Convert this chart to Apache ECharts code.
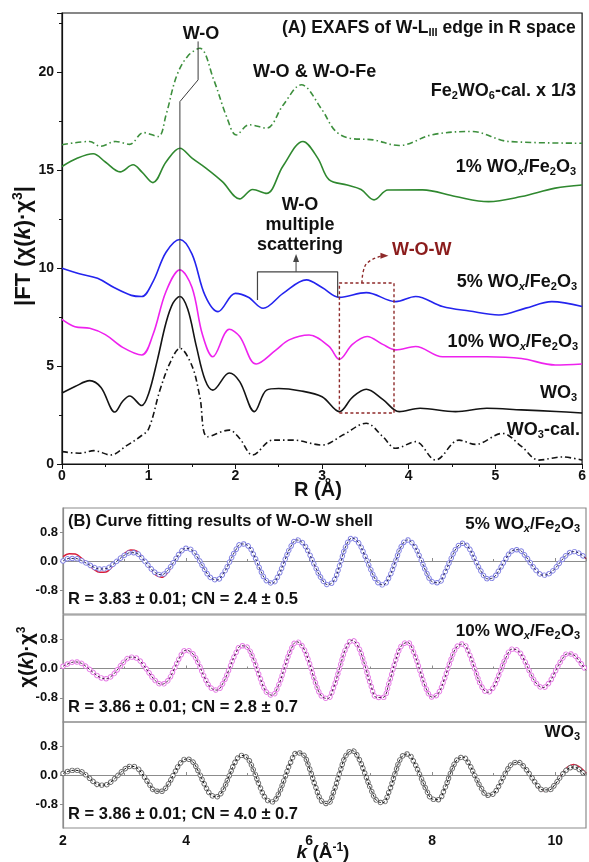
<!DOCTYPE html>
<html><head><meta charset="utf-8">
<script src="https://cdn.jsdelivr.net/npm/echarts@6/dist/echarts.min.js"></script>
<style>html,body{margin:0;padding:0;background:#fff}#c{width:589px;height:862px}</style>
</head><body><div id="c"></div>
<script>
// ---------- Panel A: |FT| in R space, [R (Å), value] ----------
const fe2wo6Cal = [[0,16.28],[0.32,16.45],[0.44,16.2],[0.62,16.45],[0.78,16.3],[0.94,16.9],[1.11,16.7],[1.2,17.8],[1.32,19.76],[1.45,20.8],[1.59,21.2],[1.75,19.6],[1.9,17.7],[2.01,16.78],[2.16,17.3],[2.36,17.13],[2.55,18.3],[2.76,19.34],[3.0,18.06],[3.15,17.0],[3.31,16.62],[3.59,16.53],[3.89,16.24],[4.27,16.79],[4.73,16.96],[5.15,16.45],[6,16.36]];
const wox1 = [[0,15.17],[0.18,15.6],[0.36,15.82],[0.5,15.4],[0.67,14.9],[0.82,15.26],[0.92,14.9],[1.05,14.35],[1.2,15.4],[1.36,16.1],[1.5,15.6],[1.66,15.09],[1.85,14.4],[2.05,13.52],[2.2,14.0],[2.36,13.8],[2.55,15.2],[2.78,16.45],[2.95,15.6],[3.08,14.5],[3.29,14.23],[3.45,14.0],[3.6,13.47],[3.76,13.97],[4.16,13.98],[4.54,13.64],[4.92,13.38],[5.3,13.64],[5.69,14.07],[6,14.23]];
const wox5 = [[0,9.98],[0.2,9.7],[0.41,9.47],[0.6,9.0],[0.8,8.6],[0.92,8.54],[1.05,9.3],[1.2,10.8],[1.36,11.45],[1.5,10.7],[1.65,8.6],[1.8,7.77],[2.0,8.7],[2.15,8.5],[2.32,7.94],[2.55,8.7],[2.82,9.39],[3.0,9.0],[3.2,8.5],[3.51,8.74],[3.85,8.28],[4.08,8.54],[4.39,8.03],[4.7,7.8],[5.04,7.6],[5.35,7.95],[5.65,8.28],[6,8.03]];
const wox10 = [[0,7.38],[0.15,7.0],[0.32,6.92],[0.5,6.6],[0.7,5.95],[0.92,5.56],[1.05,6.6],[1.2,8.8],[1.36,9.9],[1.5,9.0],[1.62,6.6],[1.74,5.47],[1.93,6.87],[2.05,6.5],[2.24,5.1],[2.47,5.82],[2.62,6.33],[2.85,6.58],[3.08,6.0],[3.2,5.34],[3.35,6.1],[3.52,6.5],[3.7,6.1],[3.85,5.82],[4.08,5.99],[4.39,5.47],[4.9,5.47],[5.3,5.38],[5.69,5.05],[6,5.1]];
const wo3 = [[0,3.62],[0.15,3.95],[0.32,4.25],[0.45,3.9],[0.61,2.65],[0.7,3.2],[0.78,3.47],[0.92,2.98],[1.0,3.6],[1.1,5.3],[1.2,7.2],[1.28,8.2],[1.36,8.54],[1.45,7.9],[1.55,6.0],[1.65,4.3],[1.74,3.77],[1.93,4.64],[2.05,4.2],[2.22,2.67],[2.36,3.77],[2.5,3.85],[2.74,3.74],[3.0,3.43],[3.2,2.67],[3.35,3.4],[3.51,3.81],[3.7,3.3],[3.89,2.67],[4.13,2.84],[4.54,2.67],[4.9,2.84],[5.3,2.76],[5.7,2.68],[6,2.6]];
const wo3Cal = [[0,0.63],[0.2,0.55],[0.37,0.68],[0.56,0.46],[0.75,0.95],[0.9,1.39],[1.0,1.8],[1.13,3.77],[1.25,5.2],[1.36,5.9],[1.5,5.0],[1.59,3.43],[1.68,1.39],[1.93,1.73],[2.05,1.3],[2.2,0.46],[2.43,1.22],[2.66,1.22],[3.0,0.97],[3.25,1.5],[3.51,2.08],[3.7,1.4],[3.85,0.8],[4.08,1.14],[4.31,0.2],[4.58,1.22],[4.77,1.0],[5.08,1.56],[5.3,0.9],[5.5,0.2],[5.77,0.36],[6,0.2]];

// annotation guides in panel A (data coordinates)
const woPointer = [[1.36,5.9],[1.36,18.48],[1.57,19.59],[1.57,21.55]];
const msBracket = [[2.255,8.37],[2.255,9.8],[3.18,9.8],[3.18,8.5]];
const msArrow = [[2.70,9.8],[2.70,10.5]];
const wowBox = [[3.2,2.6],[3.83,2.6],[3.83,9.23],[3.2,9.23],[3.2,2.6]];
const wowArrow = [[3.46,9.23],[3.48,9.9],[3.56,10.38],[3.72,10.62]];

// ---------- Panel B: chi(k)*k^3, k in Å^-1 ----------
const kValues = [2.0,2.1,2.2,2.3,2.4,2.5,2.6,2.7,2.8,2.9,3.0,3.1,3.2,3.3,3.4,3.5,3.6,3.7,3.8,3.9,4.0,4.1,4.2,4.3,4.4,4.5,4.6,4.7,4.8,4.9,5.0,5.1,5.2,5.3,5.4,5.5,5.6,5.7,5.8,5.9,6.0,6.1,6.2,6.3,6.4,6.5,6.6,6.7,6.8,6.9,7.0,7.1,7.2,7.3,7.4,7.5,7.6,7.7,7.8,7.9,8.0,8.1,8.2,8.3,8.4,8.5,8.6,8.7,8.8,8.9,9.0,9.1,9.2,9.3,9.4,9.5,9.6,9.7,9.8,9.9,10.0,10.1,10.2,10.3,10.4,10.5];
const w5Data = [0.00,0.07,0.07,0.01,-0.08,-0.17,-0.22,-0.21,-0.11,0.03,0.16,0.23,0.21,0.05,-0.15,-0.32,-0.38,-0.26,-0.03,0.22,0.35,0.29,0.06,-0.23,-0.46,-0.52,-0.36,-0.05,0.28,0.47,0.43,0.17,-0.22,-0.53,-0.61,-0.40,0.00,0.39,0.58,0.49,0.21,-0.16,-0.48,-0.65,-0.55,-0.10,0.42,0.63,0.51,0.17,-0.23,-0.56,-0.66,-0.45,-0.02,0.41,0.58,0.44,0.11,-0.29,-0.57,-0.60,-0.34,0.04,0.37,0.49,0.35,0.02,-0.30,-0.49,-0.45,-0.22,0.07,0.28,0.31,0.17,-0.06,-0.28,-0.39,-0.35,-0.20,0.01,0.19,0.26,0.20,0.07];
const w5Fit = [0.12,0.20,0.19,0.08,-0.08,-0.23,-0.31,-0.30,-0.16,0.02,0.21,0.30,0.27,0.08,-0.17,-0.38,-0.45,-0.32,-0.06,0.20,0.35,0.29,0.06,-0.23,-0.46,-0.52,-0.36,-0.05,0.28,0.47,0.43,0.17,-0.22,-0.53,-0.61,-0.40,0.00,0.39,0.58,0.49,0.21,-0.16,-0.48,-0.65,-0.55,-0.10,0.42,0.63,0.51,0.17,-0.23,-0.56,-0.66,-0.45,-0.02,0.41,0.58,0.44,0.11,-0.29,-0.57,-0.60,-0.34,0.04,0.37,0.49,0.35,0.02,-0.30,-0.49,-0.45,-0.22,0.07,0.28,0.31,0.17,-0.06,-0.28,-0.39,-0.35,-0.20,0.01,0.19,0.26,0.20,0.07];
const w10Data = [0.06,0.14,0.18,0.14,0.02,-0.12,-0.24,-0.28,-0.19,0.00,0.20,0.31,0.28,0.11,-0.12,-0.33,-0.43,-0.34,-0.04,0.31,0.50,0.42,0.14,-0.24,-0.52,-0.59,-0.40,-0.02,0.39,0.62,0.57,0.24,-0.24,-0.63,-0.73,-0.47,0.02,0.50,0.73,0.58,0.17,-0.37,-0.75,-0.82,-0.51,0.04,0.56,0.77,0.59,0.12,-0.44,-0.79,-0.79,-0.39,0.19,0.62,0.71,0.44,-0.05,-0.54,-0.78,-0.68,-0.28,0.22,0.59,0.67,0.41,-0.05,-0.48,-0.65,-0.50,-0.11,0.30,0.53,0.48,0.22,-0.14,-0.42,-0.52,-0.39,-0.08,0.22,0.40,0.37,0.18,-0.05];
const wo3Data = [0.04,0.11,0.13,0.09,-0.04,-0.19,-0.28,-0.27,-0.16,0.00,0.16,0.24,0.20,0.00,-0.25,-0.44,-0.45,-0.28,0.02,0.31,0.44,0.38,0.10,-0.26,-0.54,-0.60,-0.41,-0.03,0.36,0.54,0.46,0.12,-0.32,-0.66,-0.74,-0.53,-0.10,0.35,0.61,0.57,0.21,-0.30,-0.71,-0.79,-0.46,0.08,0.54,0.67,0.48,0.07,-0.38,-0.71,-0.76,-0.45,0.06,0.49,0.58,0.37,0.00,-0.39,-0.66,-0.68,-0.39,0.06,0.41,0.49,0.30,-0.04,-0.37,-0.56,-0.51,-0.25,0.08,0.31,0.35,0.21,-0.02,-0.26,-0.41,-0.41,-0.25,-0.02,0.16,0.22,0.14,-0.03];
const wo3TailK = [9.7,9.8,9.9,10.0,10.1,10.2,10.3,10.4,10.5];
const wo3TailFit = [-0.27,-0.43,-0.42,-0.24,0.02,0.22,0.29,0.22,0.05];

// tick labels
const rTicksMax = 6, kMin = 2, kMax = 10.5;
const chiTickValues = [-0.8, 0, 0.8];

// ---------- helpers ----------
const FONT = '"Liberation Sans", Arial, Helvetica, sans-serif';
const zip = (xs, ys) => xs.map((x, i) => [x, ys[i]]);

function richText(src) {
  // _c / _[..] subscript, ^c / ^[..] superscript, ~c italic
  let out = '', buf = '';
  const flush = () => { if (buf) { out += '{n|' + buf + '}'; buf = ''; } };
  for (let i = 0; i < src.length; i++) {
    const ch = src[i];
    if ((ch === '_' || ch === '^' || ch === '~') && i + 1 < src.length) {
      flush();
      let c = src[++i];
      if (c === '[') { const j = src.indexOf(']', i); c = src.slice(i + 1, j); i = j; }
      let st = ch === '_' ? 's' : (ch === '^' ? 'u' : 'i');
      if (ch === '_' && c === 'x') st = 'si';
      out += '{' + st + '|' + c + '}';
    } else buf += ch;
  }
  flush();
  return out;
}
function richStyles(size, color) {
  const sub = Math.round(size * 0.62);
  const base = { fontSize: size, fontWeight: 'bold', fontFamily: FONT, fill: color, color: color };
  return {
    n: base,
    i: Object.assign({}, base, { fontStyle: 'italic' }),
    s: Object.assign({}, base, { fontSize: sub, padding: [Math.round(size * 0.5), 0, 0, 0] }),
    si: Object.assign({}, base, { fontSize: sub, fontStyle: 'italic', padding: [Math.round(size * 0.5), 0, 0, 0] }),
    u: Object.assign({}, base, { fontSize: sub, padding: [0, 0, Math.round(size * 0.5), 0] })
  };
}
function label(text, x, y, align, size, color, rotation) {
  color = color || '#111';
  return {
    type: 'text', x: x, y: y, rotation: rotation || 0, z: 100, silent: true,
    style: {
      text: richText(text), rich: richStyles(size, color),
      align: align, verticalAlign: 'middle',
      font: 'bold ' + size + 'px ' + FONT, fill: color
    }
  };
}
function arrowData(pts, rot) {
  return pts.map((p, i) => i === pts.length - 1
    ? { value: p, symbol: 'triangle', symbolSize: [6, 8], symbolRotate: rot }
    : { value: p, symbol: 'none' });
}

const axisText = { fontSize: 14, fontWeight: 'bold', color: '#111', fontFamily: FONT };
const smallText = { fontSize: 13, fontWeight: 'bold', color: '#111', fontFamily: FONT };

// ---------- grids & axes ----------
const grids = [
  { left: 62, top: 13, width: 522, height: 451, show: true, borderColor: '#111', borderWidth: 1.2 },
  { left: 63, top: 508, width: 523, height: 106, show: true, borderColor: '#8c8c8c', borderWidth: 1.2 },
  { left: 63, top: 615, width: 523, height: 107, show: true, borderColor: '#8c8c8c', borderWidth: 1.2 },
  { left: 63, top: 722, width: 523, height: 106, show: true, borderColor: '#8c8c8c', borderWidth: 1.2 }
];
const xAxes = [
  { gridIndex: 0, type: 'value', min: 0, max: rTicksMax, interval: 1,
    axisLine: { lineStyle: { color: '#111', width: 1.2 } },
    axisTick: { inside: false, length: 5, lineStyle: { color: '#111' } },
    minorTick: { show: true, splitNumber: 2, length: 3, lineStyle: { color: '#111' } },
    axisLabel: Object.assign({ margin: 5 }, axisText), splitLine: { show: false } }
];
const yAxes = [
  { gridIndex: 0, type: 'value', min: 0, max: 23, interval: 5,
    axisLine: { show: true, lineStyle: { color: '#111', width: 1.2 } },
    axisTick: { inside: false, length: 5, lineStyle: { color: '#111' } },
    minorTick: { show: true, splitNumber: 2, length: 3, lineStyle: { color: '#111' } },
    axisLabel: Object.assign({ margin: 8, showMaxLabel: false }, axisText), splitLine: { show: false } }
];
for (let g = 1; g <= 3; g++) {
  xAxes.push({ gridIndex: g, type: 'value', min: kMin, max: kMax, interval: 2,
    axisLine: { lineStyle: { color: '#8c8c8c', width: 1.2 } },
    axisTick: { inside: true, length: 3, lineStyle: { color: '#8c8c8c' } },
    minorTick: { show: true, splitNumber: 2, length: 2, lineStyle: { color: '#8c8c8c' } },
    axisLabel: Object.assign({ show: g === 3, margin: 6, showMaxLabel: false }, axisText),
    splitLine: { show: false } });
  yAxes.push({ gridIndex: g, type: 'value', min: -1.46, max: 1.46,
    axisLine: { show: true, lineStyle: { color: '#8c8c8c', width: 1.2 } },
    axisTick: { inside: false, length: 3, customValues: chiTickValues, lineStyle: { color: '#8c8c8c' } },
    axisLabel: Object.assign({ margin: 5, customValues: chiTickValues, formatter: v => (Math.abs(v) < 1e-9 ? 0 : v).toFixed(1) }, smallText),
    splitLine: { show: false } });
}

// ---------- series ----------
function curve(data, color, dash, ax) {
  return { type: 'line', xAxisIndex: ax, yAxisIndex: ax, data: data, smooth: 0.35, symbol: 'none',
    lineStyle: { color: color, width: 1.6, type: dash || 'solid' }, z: 3 };
}
function guide(data, color, dash, width, smooth) {
  return { type: 'line', xAxisIndex: 0, yAxisIndex: 0, data: data, smooth: smooth || false, symbol: 'none',
    lineStyle: { color: color, width: width, type: dash || 'solid' }, itemStyle: { color: color }, z: 4 };
}
function rings(ax, data, color) {
  const dash = [0.01, 4.9];
  return [
    { type: 'line', xAxisIndex: ax, yAxisIndex: ax, data: data, smooth: 0.4, symbol: 'none', z: 3,
      lineStyle: { color: color, width: 5.4, type: dash, cap: 'round' } },
    { type: 'line', xAxisIndex: ax, yAxisIndex: ax, data: data, smooth: 0.4, symbol: 'none', z: 4,
      lineStyle: { color: '#ffffff', width: 3.6, type: dash, cap: 'round' } }
  ];
}
function fitLine(ax, data, color, dash, width, z) {
  return { type: 'line', xAxisIndex: ax, yAxisIndex: ax, data: data, smooth: 0.4, symbol: 'none', z: z,
    lineStyle: { color: color, width: width, type: dash } };
}
const dashDot = [6, 3, 1.5, 3];
const series = [
  curve(fe2wo6Cal, '#3d8f3d', dashDot, 0),
  curve(wox1, '#2f882f', 'solid', 0),
  curve(wox5, '#2424ee', 'solid', 0),
  curve(wox10, '#ee22ee', 'solid', 0),
  curve(wo3, '#141414', 'solid', 0),
  curve(wo3Cal, '#141414', dashDot, 0),
  guide(woPointer, '#3a3a3a', 'solid', 1),
  guide(msBracket, '#444', 'solid', 1.2),
  guide(arrowData(msArrow, 0), '#444', 'solid', 1),
  guide(wowBox, '#8e2a2a', [3, 2.5], 1.4),
  guide(arrowData(wowArrow, -90), '#8e2a2a', [3, 2.5], 1.4, 0.5),

  fitLine(1, zip(kValues, w5Fit), '#d81e3c', 'solid', 1.5, 2),
  ...rings(1, zip(kValues, w5Data), '#8484e4'),
  fitLine(1, zip(kValues, w5Data), '#2a2a58', [2.5, 2], 1, 5),

  ...rings(2, zip(kValues, w10Data), '#e67ce6'),
  fitLine(2, zip(kValues, w10Data), '#4a1f48', [2.5, 2], 1, 5),

  fitLine(3, zip(wo3TailK, wo3TailFit), '#d81e3c', 'solid', 1.5, 2),
  ...rings(3, zip(kValues, wo3Data), '#6e6e6e'),
  fitLine(3, zip(kValues, wo3Data), '#141414', [2.5, 2], 1, 5)
];

// ---------- texts ----------
const graphics = [
  label('(A) EXAFS of W-L_[III] edge in R space', 282, 28, 'left', 17.5),
  label('W-O', 201, 34, 'center', 18),
  label('W-O & W-O-Fe', 253, 72, 'left', 18),
  label('Fe_2WO_6-cal. x 1/3', 576, 91, 'right', 18),
  label('1% WO_x/Fe_2O_3', 576, 167, 'right', 18),
  label('W-O', 300, 205, 'center', 18),
  label('multiple', 300, 225, 'center', 18),
  label('scattering', 300, 245, 'center', 18),
  label('W-O-W', 392, 250, 'left', 18, '#8b1c1c'),
  label('5% WO_x/Fe_2O_3', 577, 282, 'right', 18),
  label('10% WO_x/Fe_2O_3', 578, 342, 'right', 18),
  label('WO_3', 577, 393, 'right', 18),
  label('WO_3-cal.', 580, 430, 'right', 18),
  label('|FT (χ(~k)·χ^3|', 24, 246, 'center', 22, '#111', Math.PI / 2),
  label('R (Å)', 318, 490, 'center', 20),

  label('(B) Curve fitting results of W-O-W shell', 68, 521, 'left', 16.5),
  label('5% WO_x/Fe_2O_3', 580, 524, 'right', 17),
  label('R = 3.83 ± 0.01; CN = 2.4 ± 0.5', 68, 599, 'left', 16.5),
  label('10% WO_x/Fe_2O_3', 580, 631, 'right', 17),
  label('R = 3.86 ± 0.01; CN = 2.8 ± 0.7', 68, 707, 'left', 16.5),
  label('WO_3', 580, 732, 'right', 17),
  label('R = 3.86 ± 0.01; CN = 4.0 ± 0.7', 68, 814, 'left', 16.5),
  label('χ(~k)·χ^3', 27, 657, 'center', 20, '#111', Math.PI / 2),
  label('~k (Å^[-1])', 323, 853, 'center', 19)
];

const chart = echarts.init(document.getElementById('c'), null, { renderer: 'canvas' });
chart.setOption({
  backgroundColor: '#ffffff',
  animation: false,
  grid: grids,
  xAxis: xAxes,
  yAxis: yAxes,
  series: series,
  graphic: graphics
});
</script>
</body></html>
